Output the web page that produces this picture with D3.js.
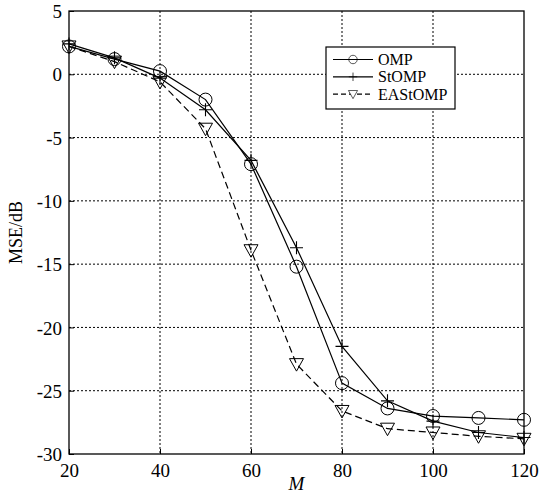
<!DOCTYPE html>
<html lang="en">
<head>
  <meta charset="utf-8">
  <title>MSE vs M</title>
  <style>
    body { margin: 0; background: #fff; }
    svg { font-family: "Liberation Serif", "Times New Roman", serif; }
  </style>
</head>
<body>
<div id="chart"></div>
<script src="https://cdn.jsdelivr.net/npm/d3@7"></script>
<script>
  ////////////////////////////////////////////////// DATA

  var mValues = [20, 30, 40, 50, 60, 70, 80, 90, 100, 110, 120];
  var ompMse = [2.2, 1.2, 0.25, -2.0, -7.1, -15.2, -24.4, -26.4, -27.0, -27.15, -27.3];
  var stompMse = [2.4, 1.3, -0.3, -2.8, -6.8, -13.7, -21.5, -25.8, -27.4, -28.3, -28.7];
  var eastompMse = [2.2, 1.0, -0.6, -4.3, -13.9, -22.9, -26.6, -28.0, -28.3, -28.6, -28.8];
  var seriesNames = ["OMP", "StOMP", "EAStOMP"];
  var xTicks = [20, 40, 60, 80, 100, 120];
  var yTicks = [5, 0, -5, -10, -15, -20, -25, -30];

  ////////////////////////////////////////////////// SETUP

  var width = 539, height = 495;
  var margin = {top: 11, right: 15, bottom: 41, left: 69};
  var plotW = width - margin.left - margin.right;
  var plotH = height - margin.top - margin.bottom;

  var svg = d3.select("#chart").append("svg")
    .attr("width", width)
    .attr("height", height);

  var g = svg.append("g")
    .attr("transform", "translate(" + margin.left + "," + margin.top + ")");

  var x = d3.scaleLinear().domain([20, 120]).range([0, plotW]);
  var y = d3.scaleLinear().domain([-30, 5]).range([plotH, 0]);

  // grid
  g.append("g").selectAll("line").data(xTicks.slice(1, -1)).enter().append("line")
    .attr("x1", d => x(d)).attr("x2", d => x(d))
    .attr("y1", 0).attr("y2", plotH)
    .attr("stroke", "#000").attr("stroke-width", 1).attr("stroke-dasharray", "2,2");
  g.append("g").selectAll("line").data(yTicks.slice(1, -1)).enter().append("line")
    .attr("y1", d => y(d)).attr("y2", d => y(d))
    .attr("x1", 0).attr("x2", plotW)
    .attr("stroke", "#000").attr("stroke-width", 1).attr("stroke-dasharray", "2,2");

  // axes
  var xAxis = g.append("g")
    .attr("transform", "translate(0," + plotH + ")")
    .call(d3.axisBottom(x).tickValues(xTicks).tickSize(-5).tickPadding(6).tickFormat(d3.format("d")));
  var yAxis = g.append("g")
    .call(d3.axisLeft(y).tickValues(yTicks).tickSize(-5).tickPadding(7)
      .tickFormat(d => String(d)));

  [xAxis, yAxis].forEach(function(a) {
    a.select(".domain").remove();
    a.selectAll("line").attr("stroke", "#000");
    a.selectAll("text").attr("font-family", "Liberation Serif").attr("font-size", 19).attr("fill", "#000");
  });
  xAxis.selectAll("text").attr("dy", "0.9em");
  yAxis.selectAll("text").attr("dy", "0.35em");

  // frame
  g.append("rect").attr("x", 0).attr("y", 0).attr("width", plotW).attr("height", plotH)
    .attr("fill", "none").attr("stroke", "#000").attr("stroke-width", 1.3);

  // series
  var series = [
    {name: seriesNames[0], values: ompMse, dash: null, marker: "circle"},
    {name: seriesNames[1], values: stompMse, dash: null, marker: "plus"},
    {name: seriesNames[2], values: eastompMse, dash: "7,4", marker: "tri"}
  ];

  var line = d3.line().x(d => x(d[0])).y(d => y(d[1]));

  function drawMarker(sel, type) {
    if (type === "circle") {
      sel.append("circle").attr("r", 6.5).attr("fill", "none").attr("stroke", "#000").attr("stroke-width", 1);
    } else if (type === "plus") {
      sel.append("path").attr("d", "M-6.5,0H6.5M0,-6.5V6.5").attr("stroke", "#000").attr("stroke-width", 1.1);
    } else {
      sel.append("path").attr("d", "M-7,-5.5L7,-5.5L0,7Z").attr("fill", "none").attr("stroke", "#000").attr("stroke-width", 1);
    }
  }

  series.forEach(function(s) {
    var pts = mValues.map((m, i) => [m, s.values[i]]);
    g.append("path").datum(pts)
      .attr("d", line)
      .attr("fill", "none").attr("stroke", "#000").attr("stroke-width", 1.2)
      .attr("stroke-dasharray", s.dash);
    g.append("g").selectAll("g").data(pts).enter().append("g")
      .attr("transform", d => "translate(" + x(d[0]) + "," + y(d[1]) + ")")
      .call(drawMarker, s.marker);
  });

  // legend
  var legend = svg.append("g").attr("transform", "translate(326,47)");
  legend.append("rect").attr("width", 129).attr("height", 62)
    .attr("fill", "#fff").attr("stroke", "#000").attr("stroke-width", 1.2);
  series.forEach(function(s, i) {
    var ly = 12.5 + i * 17.3;
    legend.append("line").attr("x1", 7).attr("x2", 47).attr("y1", ly).attr("y2", ly)
      .attr("stroke", "#000").attr("stroke-width", 1.2)
      .attr("stroke-dasharray", s.dash ? "5,3" : null);
    var mk = legend.append("g").attr("transform", "translate(27," + ly + ") scale(0.65)");
    drawMarker(mk, s.marker);
    if (s.marker === "tri") mk.select("path").attr("fill", "#fff");
    legend.append("text").attr("x", 52).attr("y", ly).attr("dy", "0.35em")
      .attr("font-size", 16).text(s.name);
  });

  // labels
  svg.append("text")
    .attr("x", margin.left + plotW / 2).attr("y", 490)
    .attr("text-anchor", "middle").attr("font-size", 19).attr("font-style", "italic")
    .text("M");
  svg.append("text")
    .attr("transform", "translate(22," + (margin.top + plotH / 2) + ") rotate(-90)")
    .attr("text-anchor", "middle").attr("font-size", 18)
    .text("MSE/dB");
</script>
</body>
</html>
